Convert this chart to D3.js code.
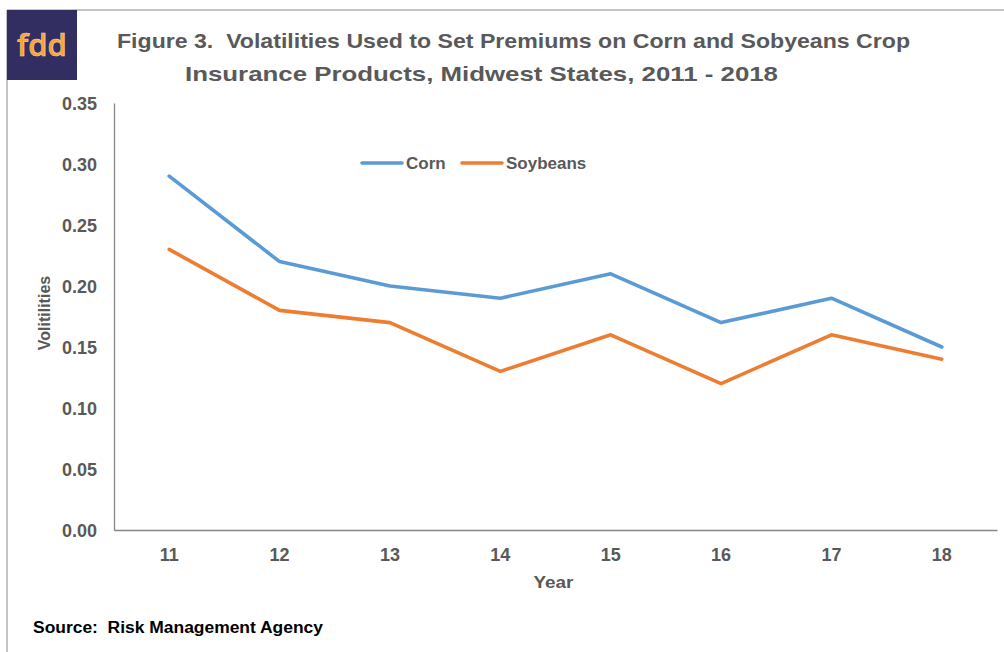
<!DOCTYPE html>
<html>
<head>
<meta charset="utf-8">
<script src="https://cdn.jsdelivr.net/npm/d3@7"></script>
<style>
  body { margin: 0; background: #fff; }
  svg { display: block; font-family: "Liberation Sans", Arial, sans-serif; }
  text { white-space: pre; }
</style>
</head>
<body>
<div id="chart"></div>
<script>
// data
const years = ['11', '12', '13', '14', '15', '16', '17', '18'];
const corn = [0.29, 0.22, 0.20, 0.19, 0.21, 0.17, 0.19, 0.15];
const soybeans = [0.23, 0.18, 0.17, 0.13, 0.16, 0.12, 0.16, 0.14];
const yTicks = [0, 0.05, 0.10, 0.15, 0.20, 0.25, 0.30, 0.35];
const seriesNames = ['Corn', 'Soybeans'];
const seriesColors = ['#5b9bd5', '#ed7d31'];

const width = 1004, height = 652;
const margin = {top: 103, right: 7, bottom: 122, left: 114};

const svg = d3.select('#chart').append('svg')
  .attr('width', width).attr('height', height);

// frame lines
svg.append('line').attr('x1', 7).attr('x2', width).attr('y1', 10).attr('y2', 10)
  .attr('stroke', '#c4c4c4').attr('stroke-width', 2);
svg.append('line').attr('x1', 7).attr('x2', 7).attr('y1', 10).attr('y2', height)
  .attr('stroke', '#c4c4c4').attr('stroke-width', 2);

// logo
svg.append('rect').attr('x', 7).attr('y', 10).attr('width', 70).attr('height', 70)
  .attr('fill', '#322e62');
svg.append('text').attr('x', 42).attr('y', 56).attr('text-anchor', 'middle')
  .attr('fill', '#f8a23a').attr('stroke', '#fbd29a').attr('stroke-width', 0.6)
  .style('font-family', '"Open Sans", sans-serif').style('font-size', '31px').style('font-weight', 600)
  .text('fdd');

// title
const title = svg.append('g').attr('fill', '#595959')
  .style('font-weight', 'bold').style('font-size', '21px');
title.append('text').attr('x', 117).attr('y', 48)
  .attr('textLength', 793).attr('lengthAdjust', 'spacingAndGlyphs')
  .text('Figure 3.  Volatilities Used to Set Premiums on Corn and Sobyeans Crop');
title.append('text').attr('x', 185).attr('y', 81)
  .attr('textLength', 593).attr('lengthAdjust', 'spacingAndGlyphs')
  .text('Insurance Products, Midwest States, 2011 - 2018');

const chart = svg.append('g').attr('transform', `translate(${margin.left},${margin.top})`);
const cw = width - margin.left - margin.right;
const ch = height - margin.top - margin.bottom;

const x = d3.scaleBand().domain(years).range([0, cw]);
const y = d3.scaleLinear().domain([0, 0.35]).range([ch, 0]);

// axes
const axisX = chart.append('g').attr('transform', `translate(0,${ch})`)
  .call(d3.axisBottom(x).tickSize(0).tickPadding(18));
const axisY = chart.append('g')
  .call(d3.axisLeft(y).tickValues(yTicks).tickFormat(d3.format('.2f')).tickSize(0).tickPadding(17));
[axisX, axisY].forEach(a => {
  a.select('.domain').attr('stroke', '#868686').attr('stroke-width', 1.3);
  a.selectAll('text').attr('fill', '#595959')
    .style('font-size', '18px').style('font-weight', 'bold')
    .style('font-family', '"Liberation Sans", Arial, sans-serif');
});
axisY.selectAll('text').attr('dy', '0.35em');

// lines
const line = d3.line().x((d, i) => x(years[i]) + x.bandwidth() / 2).y(d => y(d));
[corn, soybeans].forEach((s, k) => {
  chart.append('path').datum(s)
    .attr('fill', 'none').attr('stroke', seriesColors[k]).attr('stroke-width', 3.6)
    .attr('stroke-linejoin', 'round').attr('stroke-linecap', 'round')
    .attr('d', line);
});

// legend
const legend = svg.append('g').attr('transform', 'translate(362,163)');
const legendX = [0, 100];
seriesNames.forEach((n, k) => {
  const g = legend.append('g').attr('transform', `translate(${legendX[k]},0)`);
  g.append('line').attr('x1', 0).attr('x2', 40).attr('stroke', seriesColors[k])
    .attr('stroke-width', 3.6).attr('stroke-linecap', 'round');
  g.append('text').attr('x', 44).attr('dy', '0.35em').attr('fill', '#595959')
    .style('font-size', '17px').style('font-weight', 'bold').text(n);
});

// axis titles
svg.append('text').attr('x', margin.left + cw / 2 - 2).attr('y', 588).attr('text-anchor', 'middle')
  .attr('fill', '#595959').style('font-size', '17px').style('font-weight', 'bold')
  .attr('textLength', 40).attr('lengthAdjust', 'spacingAndGlyphs').text('Year');
svg.append('text').attr('transform', `translate(50,${margin.top + 210})rotate(-90)`)
  .attr('text-anchor', 'middle').attr('fill', '#595959')
  .style('font-size', '16px').style('font-weight', 'bold').text('Volitilities');

// source
svg.append('text').attr('x', 33).attr('y', 633).attr('fill', '#000')
  .style('font-size', '16px').style('font-weight', 'bold')
  .attr('textLength', 290).attr('lengthAdjust', 'spacingAndGlyphs')
  .text('Source:  Risk Management Agency');
</script>
</body>
</html>
